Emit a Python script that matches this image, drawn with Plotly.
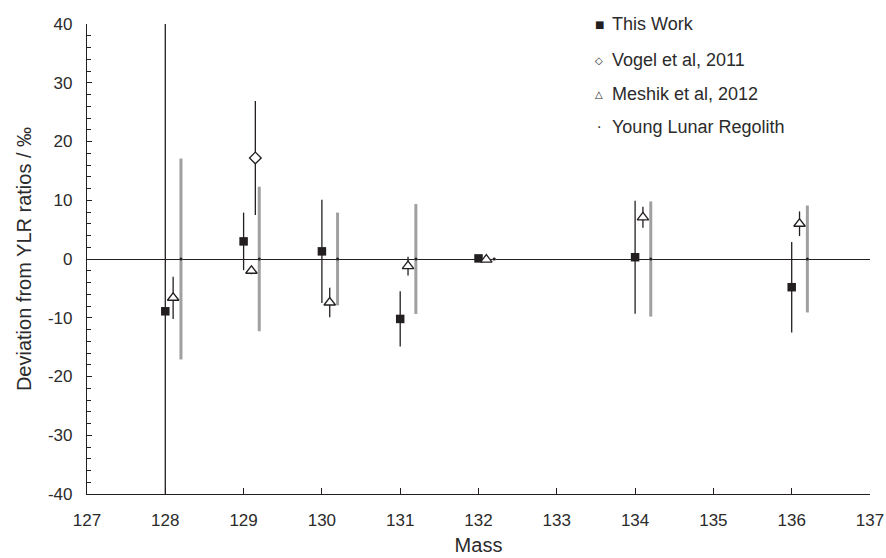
import plotly.graph_objects as go

# ---- data ----
this_work_x = [128, 129, 130, 131, 132, 134, 136]
this_work_y = [-8.9, 3.0, 1.3, -10.2, 0.1, 0.3, -4.8]
this_work_err = [50.0, 4.9, 8.8, 4.7, 0.3, 9.6, 7.7]

vogel_x = [129.15]
vogel_y = [17.2]
vogel_err = [9.7]

meshik_x = [128.1, 129.1, 130.1, 131.1, 132.1, 134.1, 136.1]
meshik_y = [-6.6, -2.0, -7.4, -1.2, -0.1, 7.1, 6.0]
meshik_err = [3.6, 0.6, 2.5, 1.6, 0.2, 1.8, 2.1]

ylr_x = [128.2, 129.2, 130.2, 131.2, 132.2, 134.2, 136.2]
ylr_y = [0, 0, 0, 0, 0, 0, 0]
ylr_err = [17.1, 12.3, 7.9, 9.35, 0.2, 9.8, 9.1]

x_ticks = list(range(127, 138))
y_ticks = list(range(-40, 41, 10))

legend_labels = ["This Work", "Vogel et al, 2011", "Meshik et al, 2012", "Young Lunar Regolith"]
legend_symbols = ["■", "◇", "△", "·"]

FONT = "Liberation Sans, Arial, sans-serif"
INK = "#231f20"
TXT = "#2b2b2b"

fig = go.Figure()

fig.add_trace(go.Scatter(
    x=ylr_x, y=ylr_y, mode="markers", name=legend_labels[3],
    marker=dict(symbol="circle", size=3, color=INK),
    error_y=dict(type="data", array=ylr_err, visible=True, color="#a0a0a0", thickness=3, width=0),
))
fig.add_trace(go.Scatter(
    x=this_work_x, y=this_work_y, mode="markers", name=legend_labels[0],
    marker=dict(symbol="square", size=8.5, color=INK),
    error_y=dict(type="data", array=this_work_err, visible=True, color=INK, thickness=1.3, width=0),
))
fig.add_trace(go.Scatter(
    x=vogel_x, y=vogel_y, mode="markers", name=legend_labels[1],
    marker=dict(symbol="diamond", size=9, color="white", line=dict(color=INK, width=1.3)),
    error_y=dict(type="data", array=vogel_err, visible=True, color=INK, thickness=1.3, width=0),
))
fig.add_trace(go.Scatter(
    x=meshik_x, y=meshik_y, mode="markers", name=legend_labels[2],
    marker=dict(symbol="triangle-up", size=10, color="white", line=dict(color=INK, width=1.3)),
    error_y=dict(type="data", array=meshik_err, visible=True, color=INK, thickness=1.3, width=0),
))

# legend drawn as text
leg_y = [1.0, 0.923, 0.851, 0.781]
sym_sizes = [10, 10, 10, 14]
for lab, sym, yy, ss in zip(legend_labels, legend_symbols, leg_y, sym_sizes):
    fig.add_annotation(x=0.654, y=yy, xref="paper", yref="paper", text=sym,
                       showarrow=False, xanchor="center", yanchor="middle",
                       font=dict(family="DejaVu Sans", size=ss, color=INK))
    fig.add_annotation(x=0.668, y=yy, xref="paper", yref="paper", text=lab,
                       showarrow=False, xanchor="left", yanchor="middle",
                       font=dict(family=FONT, size=18, color=TXT))

fig.update_layout(
    width=886, height=558,
    margin=dict(l=87, r=16, t=24, b=64, autoexpand=False),
    paper_bgcolor="white", plot_bgcolor="white",
    font=dict(family=FONT, size=17, color=TXT),
    showlegend=False,
)
fig.update_xaxes(
    range=[127, 137], tickvals=x_ticks, ticktext=[str(v) for v in x_ticks],
    showgrid=False, zeroline=False, showline=True, linecolor=INK, linewidth=1.2,
    ticks="inside", ticklen=6, tickcolor=INK, tickwidth=1,
    ticklabelstandoff=10, automargin=False,
    title=dict(text="Mass", font=dict(size=20, color=TXT), standoff=9),
    tickfont=dict(size=17, color=TXT),
)
fig.update_yaxes(
    range=[-40, 40], tickvals=y_ticks, ticktext=[str(v) for v in y_ticks],
    showgrid=False, zeroline=True, zerolinecolor=INK, zerolinewidth=1.3,
    showline=True, linecolor=INK, linewidth=1.2,
    ticks="inside", ticklen=5, tickcolor=INK, tickwidth=1,
    minor=dict(dtick=2, ticks="inside", ticklen=4, tickcolor=INK, tickwidth=1, showgrid=False),
    ticklabelstandoff=10, automargin=False,
    title=dict(text="Deviation from YLR ratios / ‰", font=dict(size=20, color=TXT), standoff=10),
    tickfont=dict(size=17, color=TXT),
)

fig.write_html("out.html")
